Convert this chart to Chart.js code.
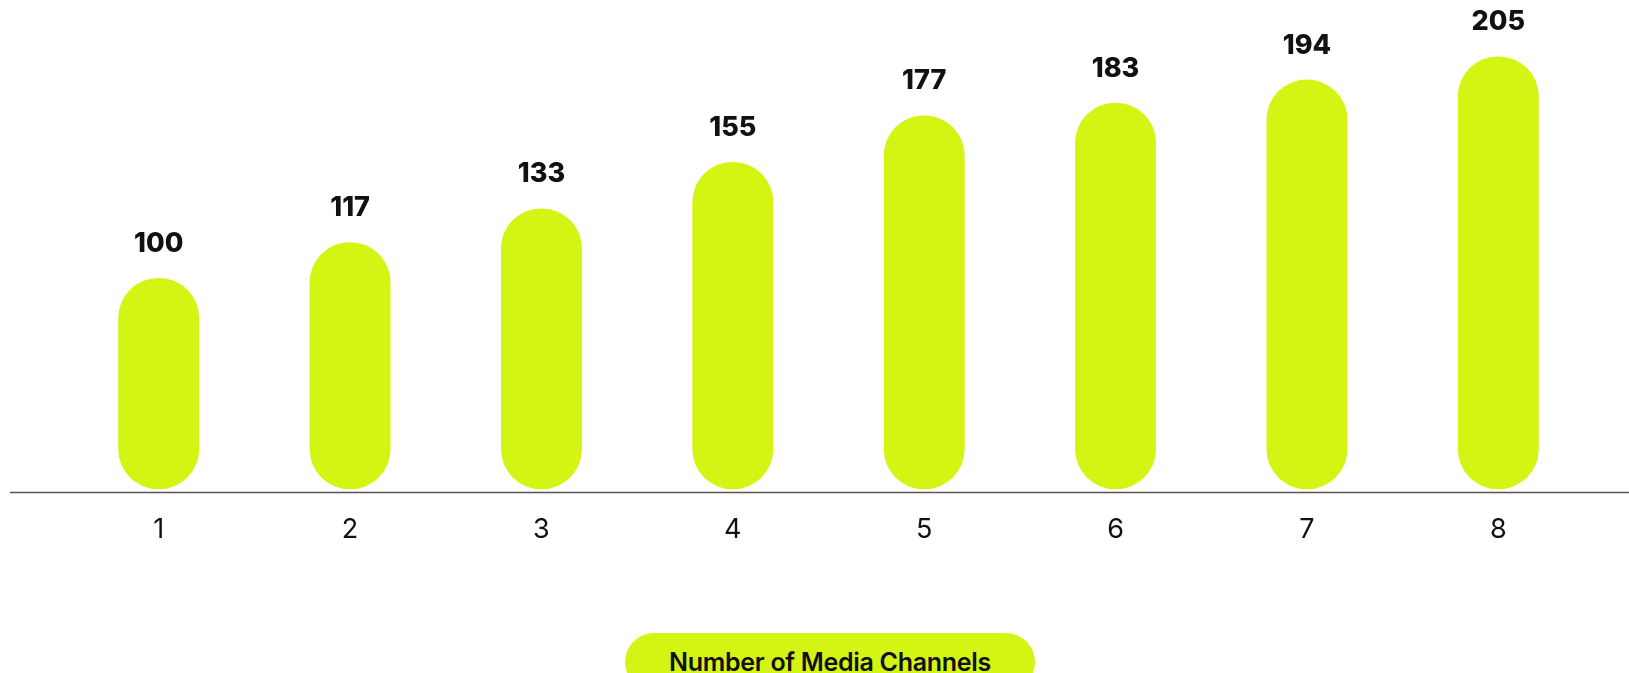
<!DOCTYPE html>
<html>
<head>
<meta charset="utf-8">
<script src="https://cdn.jsdelivr.net/npm/chart.js@4"></script>
<style>
  html, body { margin: 0; padding: 0; background: #fff; overflow: hidden; }
  #wrap { position: relative; width: 1629px; height: 673px; }
  #chart { display: block; }
  .axis-pill {
    position: absolute;
    left: 625px; top: 633px;
    width: 410px; height: 58px;
    border-radius: 29px;
    background: #d4f514;
    font-family: Inter, "Noto Sans", sans-serif;
    font-weight: 600;
    font-size: 25px;
    color: #111;
    text-align: center;
    line-height: 58px;
    letter-spacing: -0.3px;
  }
</style>
</head>
<body>
<div id="wrap">
  <canvas id="chart" width="1629" height="673"></canvas>
  <div class="axis-pill">Number of Media Channels</div>
</div>
<script>
// channel counts and index values
const channels = ['1', '2', '3', '4', '5', '6', '7', '8'];
const indexValues = [100, 117, 133, 155, 177, 183, 194, 205];

const LIME = '#d4f514';
const FONT = 'Inter, "Noto Sans", sans-serif';

// bold value above every bar
const valueLabels = {
  id: 'valueLabels',
  afterDatasetsDraw(chart) {
    const { ctx } = chart;
    const meta = chart.getDatasetMeta(0);
    ctx.save();
    ctx.font = `800 27px ${FONT}`;
    ctx.fillStyle = '#111';
    ctx.textAlign = 'center';
    ctx.textBaseline = 'alphabetic';
    meta.data.forEach((bar, i) => {
      ctx.fillText(String(indexValues[i]), bar.x, bar.y - 26);
    });
    ctx.restore();
  },
};

// baseline runs across the full width, past the plot area
const baseline = {
  id: 'baseline',
  afterDraw(chart) {
    const { ctx, chartArea } = chart;
    ctx.save();
    ctx.strokeStyle = '#555';
    ctx.lineWidth = 1.5;
    ctx.beginPath();
    ctx.moveTo(10, chartArea.bottom);
    ctx.lineTo(chart.width, chartArea.bottom);
    ctx.stroke();
    ctx.restore();
  },
};

new Chart(document.getElementById('chart'), {
  type: 'bar',
  data: {
    labels: channels,
    datasets: [{
      data: indexValues,
      backgroundColor: LIME,
      borderRadius: 40,
      borderSkipped: false,
      categoryPercentage: 1,
      barPercentage: 0.423,
    }],
  },
  options: {
    responsive: false,
    animation: false,
    layout: { padding: { left: 63, right: 35, top: 0, bottom: 106 } },
    plugins: { legend: { display: false }, tooltip: { enabled: false } },
    scales: {
      x: {
        grid: { display: false, drawTicks: false },
        border: { display: false },
        ticks: {
          padding: 21,
          color: '#111',
          font: { family: FONT, size: 27, weight: '400' },
        },
      },
      y: {
        display: false,
        min: -1.6,
        max: 231.7,
      },
    },
  },
  plugins: [valueLabels, baseline],
});
</script>
</body>
</html>
